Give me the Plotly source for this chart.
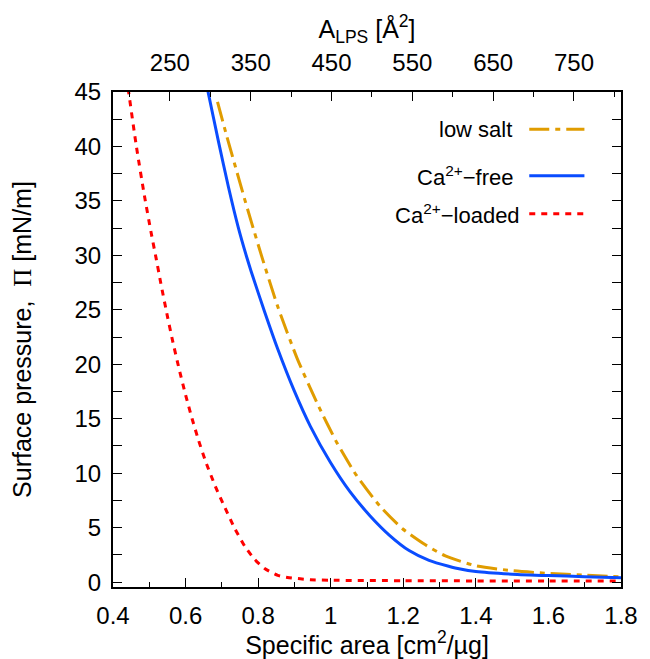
import plotly.graph_objects as go

# ---- data ----
s_free = [0.655, 0.662, 0.691, 0.718, 0.745, 0.768, 0.781, 0.818, 0.854, 0.899, 0.944,
          0.999, 1.053, 1.108, 1.162, 1.216, 1.271, 1.325, 1.343, 1.40, 1.50, 1.60, 1.70, 1.80]
p_free = [46.1, 45.0, 40.4, 36.3, 32.6, 29.9, 28.5, 24.8, 21.4, 17.6, 14.3,
          11.0, 8.3, 6.1, 4.3, 2.9, 2.0, 1.45, 1.3, 0.97, 0.73, 0.6, 0.5, 0.4]

s_low = [0.688, 0.713, 0.736, 0.759, 0.781, 0.809, 0.854, 0.908, 0.963, 1.017, 1.071,
         1.135, 1.198, 1.262, 1.316, 1.40, 1.50, 1.60, 1.70, 1.80]
p_low = [44.1, 41.0, 38.3, 35.6, 33.1, 30.0, 25.3, 20.5, 16.4, 12.8, 9.8,
         7.0, 4.9, 3.4, 2.4, 1.5, 1.05, 0.8, 0.63, 0.48]

s_ca = [0.437, 0.4435, 0.464, 0.487, 0.505, 0.519, 0.532, 0.550, 0.564, 0.582, 0.600,
        0.618, 0.636, 0.655, 0.682, 0.709, 0.736, 0.763, 0.790, 0.818, 0.854, 0.881,
        0.916, 0.944, 1.0, 1.2, 1.4, 1.6, 1.8]
p_ca = [46.4, 44.9, 40.1, 35.4, 32.1, 29.7, 27.4, 24.4, 22.2, 19.6, 17.2,
        15.0, 13.0, 11.1, 8.8, 6.8, 4.9, 3.3, 2.1, 1.25, 0.62, 0.43,
        0.3, 0.22, 0.17, 0.13, 0.11, 0.1, 0.09]

A_PER_S = 449.0  # Å^2 per (cm^2/µg)
x_range = [0.4, 1.8]
y_range = [-0.45, 45]
x_ticks = [0.4, 0.6, 0.8, 1.0, 1.2, 1.4, 1.6, 1.8]
x_ticklabels = ["0.4", "0.6", "0.8", "1", "1.2", "1.4", "1.6", "1.8"]
top_ticks = [250, 350, 450, 550, 650, 750]

legend_names = ["low salt", "Ca<sup>2+</sup>−free", "Ca<sup>2+</sup>−loaded"]

C_LOW = "#e09c00"
C_FREE = "#0a4cff"
C_CA = "#ff0000"
DASH_LOW = "20px,6px,5px,6px"
DASH_CA = "6px,6px"
FONT = "Liberation Sans"
TICK_SIZE = 24
TITLE_SIZE = 25
KEY_SIZE = 22

fig = go.Figure()
fig.add_trace(go.Scatter(x=s_low, y=p_low, mode="lines", name=legend_names[0],
                         line=dict(color=C_LOW, width=3, dash=DASH_LOW, shape="spline", smoothing=0.6),
                         showlegend=False))
fig.add_trace(go.Scatter(x=s_free, y=p_free, mode="lines", name=legend_names[1],
                         line=dict(color=C_FREE, width=3, shape="spline", smoothing=0.6),
                         showlegend=False))
fig.add_trace(go.Scatter(x=s_ca, y=p_ca, mode="lines", name=legend_names[2],
                         line=dict(color=C_CA, width=3, dash=DASH_CA, shape="spline", smoothing=0.6),
                         showlegend=False))
# invisible trace to activate the top axis (A_LPS)
fig.add_trace(go.Scatter(x=[v * A_PER_S for v in x_range], y=[0, 0], xaxis="x2",
                         mode="lines", line=dict(width=0), opacity=0,
                         hoverinfo="skip", showlegend=False))

axis_common = dict(showline=True, linecolor="black", linewidth=2, ticks="inside",
                   tickcolor="black", tickwidth=1, showgrid=False, zeroline=False,
                   tickfont=dict(family=FONT, size=TICK_SIZE, color="black"))

fig.update_layout(
    width=650, height=659,
    margin=dict(l=113, r=22, t=92, b=70),
    plot_bgcolor="white", paper_bgcolor="white",
    font=dict(family=FONT, size=TITLE_SIZE, color="black"),
    xaxis=dict(range=x_range, tickvals=x_ticks, ticktext=x_ticklabels, ticklen=9,
               mirror=True, ticklabelstandoff=6,
               minor=dict(dtick=0.1, tick0=0.4, ticklen=5, ticks="inside", tickcolor="black"),
               title=dict(text="Specific area [cm<sup>2</sup>/µg]", standoff=1,
                          font=dict(family=FONT, size=TITLE_SIZE)),
               **axis_common),
    xaxis2=dict(overlaying="x", side="top", anchor="y",
                range=[x_range[0] * A_PER_S, x_range[1] * A_PER_S],
                tickvals=top_ticks, ticklen=9, ticklabelstandoff=9,
                minor=dict(dtick=50, tick0=250, ticklen=5, ticks="inside", tickcolor="black"),
                title=dict(text="A<sub>LPS</sub> [Å<sup>2</sup>]", standoff=4,
                           font=dict(family=FONT, size=TITLE_SIZE)),
                **axis_common),
    yaxis=dict(range=y_range, tick0=0, dtick=5, ticklen=9, mirror="allticks",
               ticklabelstandoff=5,
               minor=dict(dtick=2.5, tick0=0, ticklen=5, ticks="inside", tickcolor="black"),
               title=dict(text="Surface pressure,  <span style=\"font-family:Liberation Serif\">Π</span> [mN/m]",
                          standoff=36, font=dict(family=FONT, size=TITLE_SIZE)),
               **axis_common),
)

# custom gnuplot-style key (text left of the sample)
rows_y = [0.925, 0.831, 0.754]
text_x = [0.790, 0.792, 0.806]
samples = [(C_LOW, DASH_LOW), (C_FREE, "solid"), (C_CA, DASH_CA)]
for name, yy, tx, (col, dash) in zip(legend_names, rows_y, text_x, samples):
    fig.add_annotation(xref="paper", yref="paper", x=tx, y=yy, text=name,
                       showarrow=False, xanchor="right", yanchor="middle",
                       font=dict(family=FONT, size=KEY_SIZE, color="black"))
    fig.add_shape(type="line", xref="paper", yref="paper", x0=0.8194, x1=0.928,
                  y0=yy, y1=yy, line=dict(color=col, width=3, dash=dash))

# remove the default page margin so the figure sits at the window origin
fig.write_html("out.html", config={"displayModeBar": False},
               post_script="document.body.style.margin='0';")
